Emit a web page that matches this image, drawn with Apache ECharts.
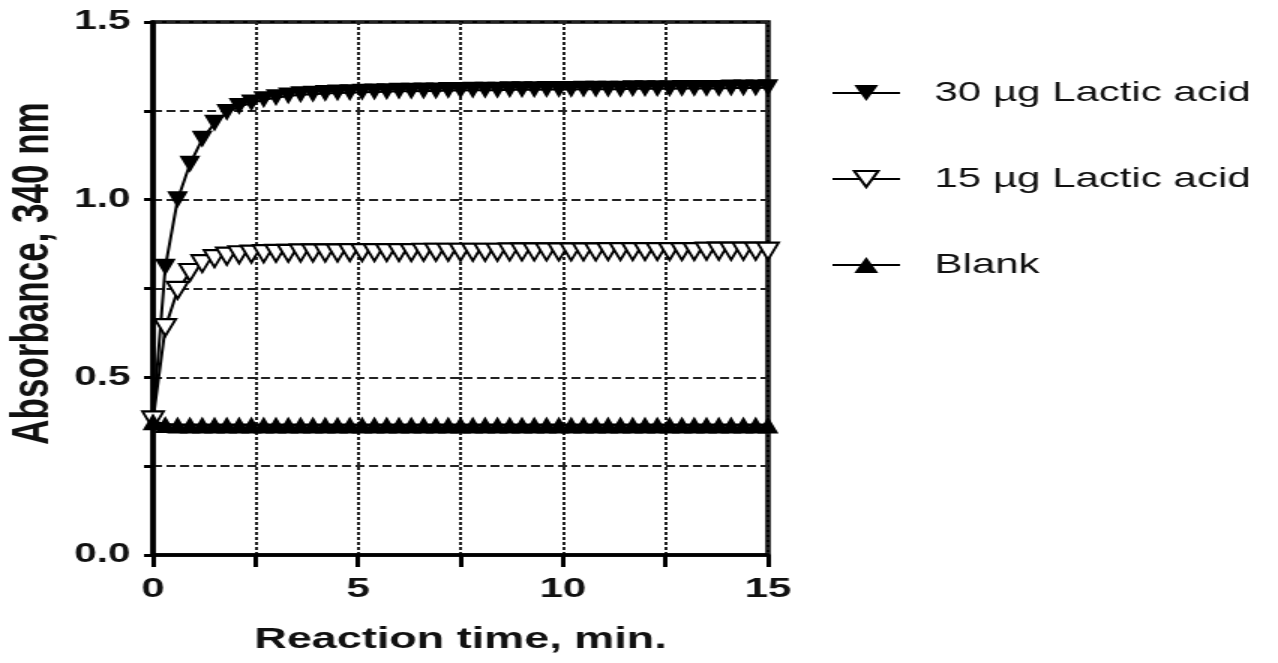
<!DOCTYPE html>
<html>
<head>
<meta charset="utf-8">
<script src="https://cdn.jsdelivr.net/npm/echarts@6/dist/echarts.min.js"></script>
<style>
html,body{margin:0;padding:0;background:#fff;overflow:hidden;width:1278px;height:663px;}
#c{width:852px;height:663px;transform:scaleX(1.5);transform-origin:0 0;}
</style>
</head>
<body>
<div id="c"></div>
<script>
// Reaction time, min.
var times = [0,0.3,0.6,0.9,1.2,1.5,1.8,2.1,2.4,2.7,3,3.3,3.6,3.9,4.2,4.5,4.8,5.1,5.4,5.7,6,6.3,6.6,6.9,7.2,7.5,7.8,8.1,8.4,8.7,9,9.3,9.6,9.9,10.2,10.5,10.8,11.1,11.4,11.7,12,12.3,12.6,12.9,13.2,13.5,13.8,14.1,14.4,14.7,15];
// Absorbance, 340 nm
var lactic30 = [0.38,0.81,1.00,1.10,1.17,1.215,1.245,1.262,1.272,1.281,1.287,1.292,1.295,1.297,1.299,1.300,1.301,1.302,1.303,1.304,1.305,1.305,1.306,1.306,1.307,1.307,1.308,1.308,1.308,1.309,1.309,1.309,1.310,1.310,1.310,1.311,1.311,1.311,1.311,1.312,1.312,1.312,1.312,1.313,1.313,1.313,1.313,1.314,1.314,1.314,1.315];
var lactic15 = [0.38,0.64,0.745,0.795,0.82,0.834,0.841,0.845,0.847,0.848,0.849,0.849,0.850,0.850,0.850,0.850,0.851,0.851,0.851,0.851,0.851,0.851,0.852,0.852,0.852,0.852,0.852,0.852,0.852,0.853,0.853,0.853,0.853,0.853,0.853,0.853,0.853,0.854,0.854,0.854,0.854,0.854,0.854,0.854,0.854,0.855,0.855,0.855,0.855,0.855,0.855];
var blank = [0.375,0.367,0.366,0.366,0.366,0.366,0.366,0.366,0.366,0.366,0.366,0.366,0.366,0.366,0.366,0.366,0.366,0.366,0.366,0.366,0.366,0.366,0.366,0.366,0.366,0.366,0.366,0.366,0.366,0.366,0.366,0.366,0.366,0.366,0.366,0.366,0.366,0.366,0.366,0.366,0.366,0.366,0.366,0.366,0.366,0.366,0.366,0.366,0.366,0.366,0.366];
var seriesNames = ['30 µg Lactic acid','15 µg Lactic acid','Blank'];
var xTicks = [0,5,10,15];
var yTicks = ['0.0','0.5','1.0','1.5'];

function pairs(v){ return times.map(function(t,i){ return [t, v[i]]; }); }

var FONT = 'Liberation Sans, Arial, Helvetica, sans-serif';
var chart = echarts.init(document.getElementById('c'));
var symSize = [14,17];
chart.setOption({
  animation:false,
  backgroundColor:'#fff',
  grid:{left:102,right:340,top:22,bottom:108,show:true,borderColor:'#000',borderWidth:3.5,backgroundColor:'transparent'},
  legend:{
    orient:'vertical',left:549,top:73,itemWidth:45,itemHeight:20,itemGap:56,
    data:seriesNames,
    textStyle:{fontFamily:FONT,fontSize:28,color:'#111',lineHeight:30,padding:[0,0,0,18]},
    selectedMode:false
  },
  xAxis:{
    type:'value',min:0,max:15,interval:2.5,
    name:'Reaction time, min.',nameLocation:'middle',nameGap:70,
    nameTextStyle:{fontFamily:FONT,fontSize:30,fontWeight:'bold',color:'#111'},
    axisLine:{show:true,lineStyle:{color:'#000',width:3.5}},
    axisTick:{show:true,inside:false,length:12,lineStyle:{color:'#000',width:3}},
    axisLabel:{margin:20,fontFamily:FONT,fontSize:28,fontWeight:'bold',color:'#111',showMinLabel:true,showMaxLabel:true,
      formatter:function(v){ for(var i=0;i<xTicks.length;i++){ if(Math.abs(v-xTicks[i])<1e-6) return String(xTicks[i]); } return ''; }},
    splitLine:{show:true,lineStyle:{color:'#222',width:2,type:[3,2]}}
  },
  yAxis:{
    type:'value',min:0,max:1.5,interval:0.25,
    name:'Absorbance, 340 nm',nameLocation:'middle',nameGap:62,nameRotate:90,
    nameTextStyle:{fontFamily:FONT,fontSize:35,fontWeight:'bold',color:'#111',padding:[0,0,0,30]},
    axisLine:{show:true,lineStyle:{color:'#000',width:3.5}},
    axisTick:{show:true,inside:false,length:6,lineStyle:{color:'#000',width:3}},
    axisLabel:{margin:15,fontFamily:FONT,fontSize:27,fontWeight:'bold',color:'#111',showMinLabel:true,showMaxLabel:true,
      formatter:function(v){ var k=Math.round(v*2); if(Math.abs(v*2-k)<1e-6) return yTicks[k]; return ''; }},
    splitLine:{show:true,lineStyle:{color:'#222',width:2,type:[6,3]}}
  },
  series:[
    {name:seriesNames[0],type:'line',data:pairs(lactic30),symbol:'triangle',symbolRotate:180,symbolSize:symSize,
     lineStyle:{color:'#000',width:2},itemStyle:{color:'#000'},z:3},
    {name:seriesNames[1],type:'line',data:pairs(lactic15),symbol:'emptyTriangle',symbolRotate:180,symbolSize:symSize,
     lineStyle:{color:'#000',width:2},itemStyle:{color:'#000',borderColor:'#000',borderWidth:1.5},z:3},
    {name:seriesNames[2],type:'line',data:pairs(blank),symbol:'triangle',symbolSize:symSize,
     lineStyle:{color:'#000',width:3},itemStyle:{color:'#000'},z:3}
  ]
});
</script>
</body>
</html>
